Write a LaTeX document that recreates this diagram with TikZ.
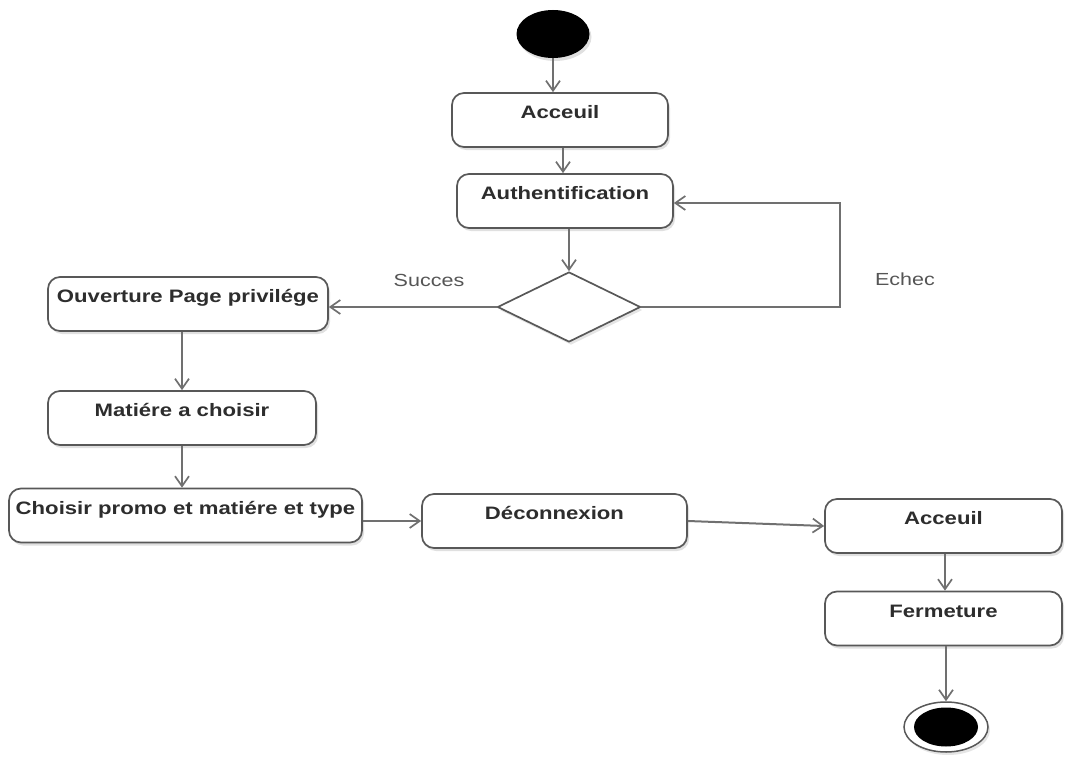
\documentclass[tikz,border=0pt]{standalone}
\usepackage{fontspec}
\newfontfamily\diagfont{Liberation Sans}[FakeStretch=1.23]
\usetikzlibrary{shapes.geometric,arrows.meta,shadows}

\definecolor{boxline}{RGB}{88,88,88}
\definecolor{wire}{RGB}{112,112,112}
\definecolor{ink}{RGB}{45,45,45}
\definecolor{guard}{RGB}{85,85,85}

\tikzset{
  act/.style={rectangle, rounded corners=12pt, draw=boxline, line width=1.7pt,
    fill=white, inner sep=0pt, text height=25.5pt, text depth=28.5pt,
    text=ink, font=\diagfont\bfseries\fontsize{18}{20}\selectfont,
    drop shadow={shadow xshift=2pt, shadow yshift=-3pt, fill=black, opacity=0.12}},
  flow/.style={draw=wire, line width=2pt,
    -{Straight Barb[length=10pt, width=14pt, line width=1.7pt]}},
  guardlbl/.style={text=guard, font=\diagfont\fontsize{17.5}{19}\selectfont, inner sep=0pt},
  choice/.style={diamond, draw=boxline, line width=1.7pt, fill=white, inner sep=0pt,
    aspect=2.04, minimum width=143pt, minimum height=70pt,
    drop shadow={shadow xshift=2pt, shadow yshift=-3pt, fill=black, opacity=0.10}},
}

\begin{document}
\begin{tikzpicture}[x=1pt, y=-1pt]
  \useasboundingbox (0,0) rectangle (1066,760);

  % initial state
  \node[ellipse, fill=black, inner sep=0pt, minimum width=73pt, minimum height=48pt,
        drop shadow={shadow xshift=2pt, shadow yshift=-3pt, fill=black, opacity=0.12}]
        (start) at (553,34) {};

  % activities
  \node[act, minimum width=216pt] (a1)   at (560,120)   {Acceuil};
  \node[act, minimum width=216pt] (auth) at (565,201)   {Authentification};
  \node[choice] (dec) at (569,307) {};
  \node[act, minimum width=280pt] (ouv)  at (188,304)   {Ouverture Page privilége};
  \node[act, minimum width=268pt] (mat)  at (182,418)   {Matiére a choisir};
  \node[act, minimum width=353pt] (cho)  at (185.5,515.5) {Choisir promo et matiére et type};
  \node[act, minimum width=265pt] (dcx)  at (554.5,521) {Déconnexion};
  \node[act, minimum width=237pt] (a2)   at (943.5,526) {Acceuil};
  \node[act, minimum width=237pt] (ferm) at (943.5,618.5) {Fermeture};

  % final state
  \node[ellipse, draw=boxline, line width=1.5pt, fill=white, inner sep=0pt,
        minimum width=84pt, minimum height=50pt,
        drop shadow={shadow xshift=2pt, shadow yshift=-3pt, fill=black, opacity=0.10}]
        (stop) at (946,727) {};
  \node[ellipse, fill=black, inner sep=0pt, minimum width=64pt, minimum height=39pt]
        (stopcore) at (stop.center) {};

  % guard labels
  \node[guardlbl] (succ) at (429,280) {Succes};
  \node[guardlbl] (ech)  at (905,279) {Echec};

  % transitions
  \draw[flow] (start.south) -- (start.south |- a1.north);
  \draw[flow] ([xshift=3pt]a1.south) -- ([xshift=3pt]a1.south |- auth.north);
  \draw[flow] (dec.north |- auth.south) -- (dec.north);
  \draw[flow] (dec.west) -- (dec.west -| ouv.east);
  \coordinate (loop) at (840,203);
  \draw[flow] (dec.east) -| (loop) -- (loop -| auth.east);
  \draw[flow] (mat.north |- ouv.south) -- (mat.north);
  \draw[flow] (mat.south) -- (mat.south |- cho.north);
  \draw[flow] (cho.east |- dcx.west) -- (dcx.west);
  \draw[flow] (dcx.east) -- (a2.west);
  \draw[flow] ([xshift=1.5pt]a2.south) -- ([xshift=1.5pt]ferm.north);
  \draw[flow] (stop.north |- ferm.south) -- (stop.north);
\end{tikzpicture}
\end{document}
